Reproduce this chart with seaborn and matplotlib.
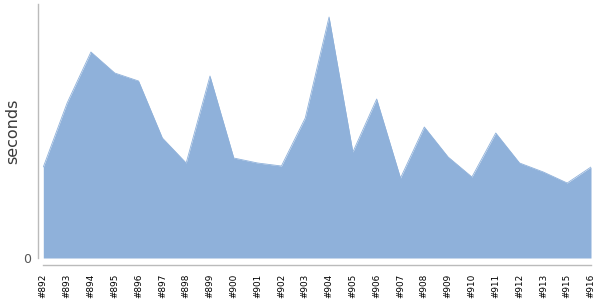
import matplotlib
matplotlib.use("Agg")
import matplotlib.pyplot as plt
import seaborn as sns
import pandas as pd

builds = ["#892", "#893", "#894", "#895", "#896", "#897", "#898", "#899", "#900",
          "#901", "#902", "#903", "#904", "#905", "#906", "#907", "#908", "#909",
          "#910", "#911", "#912", "#913", "#915", "#916"]
seconds = [91, 155, 206, 185, 177, 120, 95, 182, 100, 95, 92, 140, 241, 106,
           159, 80, 131, 101, 81, 125, 95, 86, 75, 91]

df = pd.DataFrame({"build": builds, "seconds": seconds})
df["pos"] = range(len(df))

sns.set_style("white")
plt.rcParams["font.family"] = ["DejaVu Sans"]

fig = plt.figure(figsize=(6, 3), dpi=100)
ax = fig.add_axes([43.3 / 600, 42 / 300, (591 - 43.3) / 600, 254 / 300])

color = "#8FB1DA"
sns.lineplot(data=df, x="pos", y="seconds", ax=ax, color=color, linewidth=0.6)
ax.fill_between(df["pos"], 0, df["seconds"], color=color, linewidth=0)

ax.set_xlim(0, len(df) - 1)
ax.set_ylim(0, 254)

ax.set_xticks(df["pos"], labels=df["build"])
ax.set_yticks([0], labels=["0"])

ax.tick_params(axis="x", length=3, width=0.8, color="#bbbbbb", pad=3.5,
               labelrotation=90, labelsize=6.4, labelcolor="black")
ax.tick_params(axis="y", length=0, pad=5, labelsize=9, labelcolor="#555555")

ax.set_xlabel("")
ax.set_ylabel("seconds", fontsize=11.5, color="#3a3a3a")
ax.yaxis.set_label_coords(-0.042, 0.5)

for s in ["top", "right"]:
    ax.spines[s].set_visible(False)
ax.spines["left"].set_position(("outward", 4))
ax.spines["bottom"].set_position(("outward", 5))
ax.spines["left"].set_bounds(0, 254)
ax.spines["bottom"].set_bounds(0, len(df) - 1)
for s in ["left", "bottom"]:
    ax.spines[s].set_color("#bbbbbb")
    ax.spines[s].set_linewidth(1)

fig.savefig("out.png", dpi=100)
